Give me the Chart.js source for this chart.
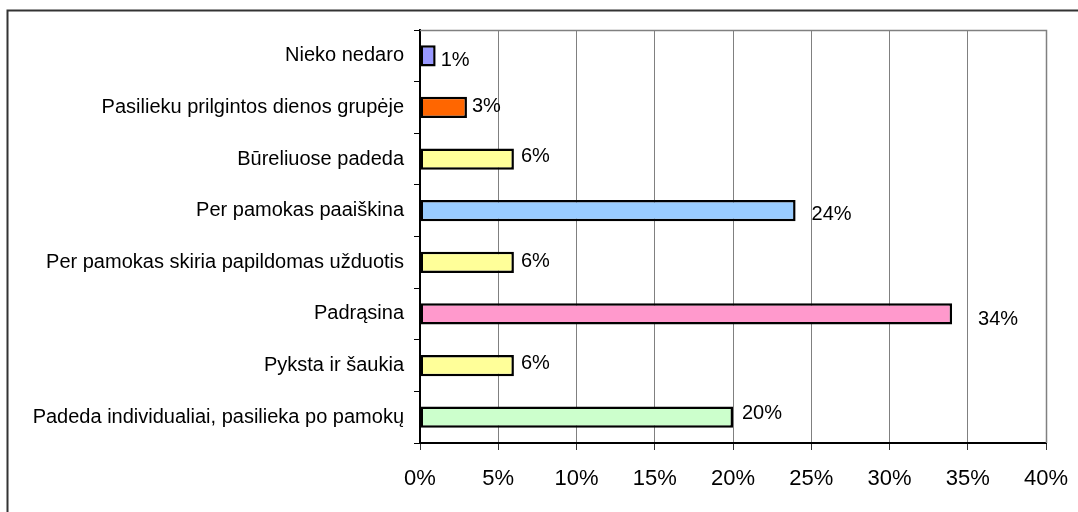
<!DOCTYPE html>
<html><head><meta charset="utf-8">
<script src="https://cdn.jsdelivr.net/npm/chart.js@4/dist/chart.umd.min.js"></script>
<style>html,body{margin:0;padding:0;background:#fff;}#wrap{width:1078px;height:512px;position:relative;}</style>
</head><body><div id="wrap"><canvas id="c" width="1078" height="512"></canvas></div>
<script>
const categories = [
  "Nieko nedaro",
  "Pasilieku prilgintos dienos grupėje",
  "Būreliuose padeda",
  "Per pamokas paaiškina",
  "Per pamokas skiria papildomas užduotis",
  "Padrąsina",
  "Pyksta ir šaukia",
  "Padeda individualiai, pasilieka po pamokų"
];
const values = [1, 3, 6, 24, 6, 34, 6, 20];
const barColors = ["#9999FF", "#FF6600", "#FFFF99", "#99CCFF", "#FFFF99", "#FF99CC", "#FFFF99", "#CCFFCC"];
const xTicks = [0, 5, 10, 15, 20, 25, 30, 35, 40];

const FONT = "'Liberation Sans', Arial, sans-serif";

const framePlugin = {
  id: 'frame',
  beforeDraw(chart) {
    const ctx = chart.ctx;
    ctx.save();
    ctx.fillStyle = '#fff';
    ctx.fillRect(0, 0, chart.width, chart.height);
    ctx.strokeStyle = '#333';
    ctx.lineWidth = 2;
    ctx.beginPath();
    ctx.moveTo(7.5, chart.height);
    ctx.lineTo(7.5, 10.5);
    ctx.lineTo(chart.width, 10.5);
    ctx.stroke();
    ctx.restore();
  },
  afterDraw(chart) {
    const a = chart.chartArea, ctx = chart.ctx;
    ctx.save();
    ctx.strokeStyle = '#808080';
    ctx.lineWidth = 1.5;
    ctx.beginPath();
    ctx.moveTo(a.left, a.top + 0.5);
    ctx.lineTo(a.right + 0.5, a.top + 0.5);
    ctx.lineTo(a.right + 0.5, a.bottom);
    ctx.stroke();
    ctx.restore();
  }
};

const labelPlugin = {
  id: 'vlabels',
  afterDatasetsDraw(chart) {
    const offs = [[5,5],[5,-1],[7,-3],[16,4],[7,-1],[26,6],[7,-2],[9,-4]];
    const ctx = chart.ctx;
    const meta = chart.getDatasetMeta(0);
    ctx.save();
    ctx.font = '20px ' + FONT;
    ctx.fillStyle = '#000';
    ctx.textBaseline = 'middle';
    ctx.textAlign = 'left';
    meta.data.forEach((bar, i) => {
      const o = offs[i];
      ctx.fillText(values[i] + '%', bar.x + o[0], bar.y + o[1]);
    });
    ctx.restore();
  }
};

new Chart(document.getElementById('c'), {
  type: 'bar',
  data: {
    labels: categories,
    datasets: [{
      data: values,
      backgroundColor: barColors,
      borderColor: '#000',
      borderWidth: 2.5,
      borderSkipped: false,
      barPercentage: 0.41,
      categoryPercentage: 1.0
    }]
  },
  options: {
    indexAxis: 'y',
    responsive: false,
    animation: false,
    devicePixelRatio: 1,
    layout: { padding: { top: 30, right: 32, left: 0, bottom: 0 } },
    plugins: { legend: { display: false }, tooltip: { enabled: false } },
    scales: {
      x: {
        min: 0, max: 40,
        afterBuildTicks(scale) { scale.ticks = xTicks.map(v => ({ value: v })); },
        afterFit(scale) { scale.height = 512 - 443; scale.paddingRight = 0; scale.paddingLeft = 0; },
        ticks: {
          callback: v => v + '%',
          color: '#000',
          font: { family: FONT, size: 22 },
          padding: 16,
          maxRotation: 0
        },
        grid: { color: '#808080', lineWidth: 1, tickLength: 7, tickColor: '#333' },
        border: { color: '#000', width: 2 }
      },
      y: {
        afterFit(scale) { scale.width = 420; scale.paddingTop = 0; scale.paddingBottom = 0; },
        ticks: {
          color: '#000',
          font: { family: FONT, size: 20 },
          padding: 10
        },
        grid: { drawOnChartArea: false, tickLength: 6, color: '#000', offset: true },
        border: { color: '#000', width: 2 }
      }
    }
  },
  plugins: [framePlugin, labelPlugin]
});
</script></body></html>
